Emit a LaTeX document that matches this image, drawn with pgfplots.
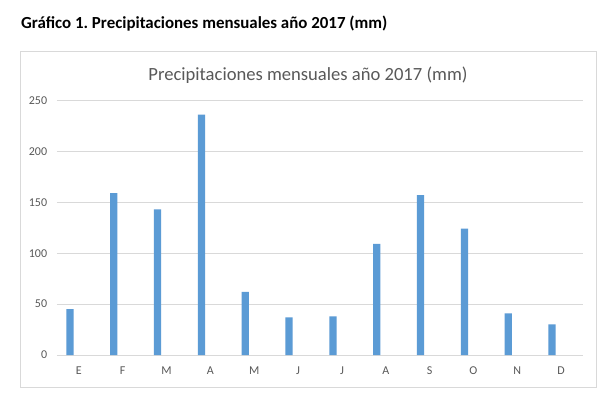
\documentclass[border=0pt]{standalone}
\usepackage{pgfplots}
\pgfplotsset{compat=1.18}
\usepackage{fontspec}
\setmainfont{Carlito}
\frenchspacing
\definecolor{barblue}{HTML}{5B9BD5}
\definecolor{gridgray}{HTML}{D9D9D9}
\definecolor{txtgray}{HTML}{595959}
\begin{document}
\begin{tikzpicture}[x=1bp,y=1bp]
\useasboundingbox (-57,-40) rectangle (559,355);
\fill[white] (-57,-40) rectangle (559,355);
\draw[gridgray, line width=0.8bp] (-36.5,-32) rectangle (539.5,304);
\node[anchor=base west, inner sep=0pt, font=\bfseries\fontsize{16.9bp}{18bp}\selectfont] at (-36,327) {Gráfico 1.\ Precipitaciones mensuales año 2017 (mm)};
\node[anchor=base, inner sep=0pt, text=txtgray, font=\fontsize{18.6bp}{20bp}\selectfont] at (251,275) {Precipitaciones mensuales año 2017 (mm)};
\begin{axis}[
  at={(0,0)}, anchor=south west,
  scale only axis, width=526bp, height=254.6bp,
  xmin=-0.5, xmax=11.5, ymin=0, ymax=250,
  ytick={0,50,100,150,200,250},
  xtick={0,...,11},
  xticklabels={E,F,M,A,M,J,J,A,S,O,N,D},
  ymajorgrids, grid style={gridgray, line width=0.8bp},
  axis line style={draw=none},
  major tick length=0pt,
  /pgf/number format/assume math mode=true,
  tick label style={text=txtgray, font=\fontsize{12bp}{14bp}\selectfont},
  yticklabel style={inner sep=0pt, xshift=-9.7bp},
  xticklabel style={inner sep=0pt, yshift=-12bp},
  clip=false,
]
\addplot[ybar, fill=barblue, draw=none, bar width=7.3bp, bar shift=-9bp] coordinates {
(0,45) (1,159) (2,143) (3,236) (4,62) (5,37) (6,38) (7,109) (8,157) (9,124) (10,41) (11,30)
};
\end{axis}
\end{tikzpicture}
\end{document}
